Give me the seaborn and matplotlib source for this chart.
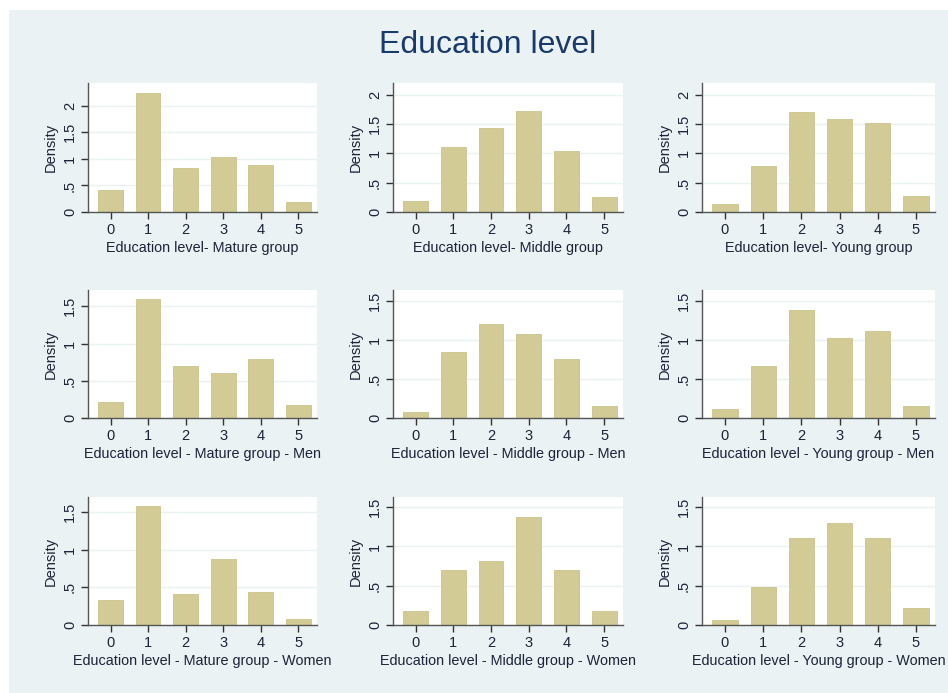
import numpy as np
import pandas as pd
import matplotlib
matplotlib.use("Agg")
import matplotlib.pyplot as plt
import seaborn as sns
from matplotlib.patches import Rectangle

# ---- data ----
levels = [0, 1, 2, 3, 4, 5]
mature = [0.41, 2.25, 0.82, 1.04, 0.88, 0.19]
middle = [0.18, 1.11, 1.44, 1.73, 1.04, 0.25]
young = [0.135, 0.78, 1.70, 1.59, 1.52, 0.28]
mature_men = [0.21, 1.595, 0.70, 0.61, 0.79, 0.175]
middle_men = [0.08, 0.85, 1.20, 1.07, 0.76, 0.15]
young_men = [0.115, 0.67, 1.38, 1.03, 1.12, 0.16]
mature_women = [0.33, 1.585, 0.41, 0.875, 0.44, 0.085]
middle_women = [0.18, 0.70, 0.81, 1.37, 0.70, 0.18]
young_women = [0.064, 0.49, 1.11, 1.30, 1.11, 0.22]

xlabels = [
    "Education level- Mature group", "Education level- Middle group", "Education level- Young group",
    "Education level - Mature group - Men", "Education level - Middle group - Men", "Education level - Young group - Men",
    "Education level - Mature group - Women", "Education level - Middle group - Women", "Education level - Young group - Women",
]
series = [mature, middle, young, mature_men, middle_men, young_men,
          mature_women, middle_women, young_women]
ytick_row1 = [0, 0.5, 1, 1.5, 2]
ytick_lab_row1 = ["0", ".5", "1", "1.5", "2"]
ytick_other = [0, 0.5, 1, 1.5]
ytick_lab_other = ["0", ".5", "1", "1.5"]
ytops = [2.43, 2.2, 2.2, 1.72, 1.64, 1.64, 1.70, 1.63, 1.63]

sns.set_theme(style="white")
plt.rcParams['font.family'] = ['Liberation Sans', 'DejaVu Sans']

BG = "#eaf2f3"
BAR = "#d3cb95"
TXT = "#1b2438"

fig = plt.figure(figsize=(9.48, 6.93), dpi=100)
fig.patch.set_facecolor("white")
fig.patches.append(Rectangle((9 / 948, 0), 1, 1 - 10 / 693, transform=fig.transFigure,
                             facecolor=BG, edgecolor="none", zorder=-10))

fig.text(0.514, 1 - 45 / 693, "Education level", ha="center", va="center",
         fontsize=23, color="#1a3a6b")

col_left = [88, 393, 702]
col_right = [317, 623, 935]
row_top = [83, 290, 497]
row_bot = [212, 418, 625]
W, H = 948, 693

for i, (vals, xl) in enumerate(zip(series, xlabels)):
    r, c = divmod(i, 3)
    left = col_left[c] / W
    width = (col_right[c] - col_left[c]) / W
    bottom = 1 - row_bot[r] / H
    height = (row_bot[r] - row_top[r]) / H
    ax = fig.add_axes([left, bottom, width, height])
    ax.set_facecolor("white")
    df = pd.DataFrame({"level": levels, "density": vals})
    ax.set_axisbelow(True)
    sns.barplot(data=df, x="level", y="density", ax=ax, native_scale=True,
                color=BAR, width=0.66, saturation=1,
                edgecolor="#cbc38c", linewidth=0.6)
    ax.set_xlim(-0.6, 5.5)
    ax.set_ylim(0, ytops[i])
    if r == 0:
        ax.set_yticks(ytick_row1)
        ax.set_yticklabels(ytick_lab_row1)
    else:
        ax.set_yticks(ytick_other)
        ax.set_yticklabels(ytick_lab_other)
    ax.set_xticks(levels)
    ax.set_xticklabels([str(v) for v in levels])
    ax.yaxis.grid(True, color=BG, linewidth=1.0)
    ax.xaxis.grid(False)
    for s in ["top", "right"]:
        ax.spines[s].set_visible(False)
    for s in ["left", "bottom"]:
        ax.spines[s].set_color("#555555")
        ax.spines[s].set_linewidth(1.0)
    ax.tick_params(axis="both", which="major", length=5, width=1.0,
                   color="#333333", labelsize=10.5, labelcolor=TXT, pad=3,
                   left=True, bottom=True)
    for lab in ax.get_yticklabels():
        lab.set_rotation(90)
        lab.set_va("center")
    ax.set_ylabel("Density", fontsize=10.5, color=TXT, labelpad=4)
    ax.set_xlabel(xl, fontsize=10.4, color=TXT, labelpad=3)

fig.savefig("out.png", dpi=100, facecolor=fig.get_facecolor())
